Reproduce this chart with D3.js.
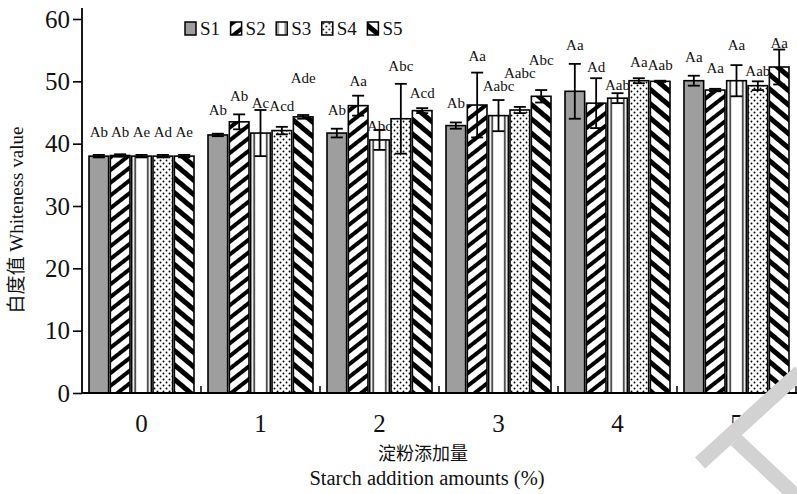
<!DOCTYPE html>
<html><head><meta charset="utf-8">
<script src="https://cdn.jsdelivr.net/npm/d3@7"></script>
<style>
html,body{margin:0;padding:0;background:#fff;}
svg{display:block;}
text{font-family:"Liberation Serif","Times New Roman","Noto Sans CJK SC",serif;fill:#111;}
</style></head>
<body>
<svg id="chart" width="797" height="494"></svg>
<script>
// ---------- data ----------
const categories = ["0", "1", "2", "3", "4", "5"];
const seriesNames = ["S1", "S2", "S3", "S4", "S5"];
const S1 = [38.0, 41.4, 41.7, 42.9, 48.4, 50.1];
const S2 = [38.1, 43.5, 46.1, 46.2, 46.5, 48.6];
const S3 = [38.0, 41.7, 40.6, 44.5, 47.3, 50.1];
const S4 = [38.0, 42.1, 44.0, 45.4, 50.1, 49.3];
const S5 = [38.0, 44.3, 45.3, 47.6, 50.0, 52.3];
const S1err = [0.2, 0.2, 0.7, 0.5, 4.4, 0.8];
const S2err = [0.2, 1.2, 1.6, 5.2, 4.0, 0.2];
const S3err = [0.2, 3.7, 1.6, 2.5, 0.8, 2.5];
const S4err = [0.2, 0.6, 5.6, 0.5, 0.4, 0.7];
const S5err = [0.2, 0.3, 0.4, 1.0, 0.1, 2.8];
const S1sig = ["Ab", "Ab", "Ab", "Ab", "Aa", "Aa"];
const S2sig = ["Ab", "Ab", "Aa", "Aa", "Ad", "Aa"];
const S3sig = ["Ae", "Ac", "Abc", "Aabc", "Aab", "Aa"];
const S4sig = ["Ad", "Acd", "Abc", "Aabc", "Aa", "Aab"];
const S5sig = ["Ae", "Ade", "Acd", "Abc", "Aab", "Aa"];
// height (in whiteness units) at which each letter label sits
const S1sigAt = [41.1, 44.6, 44.6, 45.8, 55.1, 53.1];
const S2sigAt = [41.1, 46.8, 49.2, 53.2, 51.5, 51.4];
const S3sigAt = [41.1, 45.7, 42.1, 48.5, 48.6, 55.1];
const S4sigAt = [41.1, 45.3, 51.7, 50.5, 52.3, 50.9];
const S5sigAt = [41.1, 49.8, 47.4, 52.7, 51.8, 55.3];
const yTicks = [0, 10, 20, 30, 40, 50, 60];

const values = [S1, S2, S3, S4, S5];
const errors = [S1err, S2err, S3err, S4err, S5err];
const sigs = [S1sig, S2sig, S3sig, S4sig, S5sig];
const sigAt = [S1sigAt, S2sigAt, S3sigAt, S4sigAt, S5sigAt];

// ---------- layout ----------
const svg = d3.select("#chart");
const mLeft = 82, mRight = 796, mTop = 8, mBottom = 393;

const x0 = d3.scaleBand().domain(categories).range([mLeft, mRight]).paddingInner(0).paddingOuter(0);
const x1 = d3.scaleBand().domain(seriesNames).range([7, x0.bandwidth() - 7]).paddingInner(0.08);
const y = d3.scaleLinear().domain([0, 60]).range([mBottom, 19]);

// ---------- patterns ----------
const defs = svg.append("defs");
function stripes(id, angle, period, black) {
  const p = defs.append("pattern").attr("id", id).attr("patternUnits", "userSpaceOnUse")
    .attr("width", period).attr("height", period).attr("patternTransform", `rotate(${angle})`);
  p.append("rect").attr("width", period).attr("height", period).attr("fill", "#fff");
  p.append("rect").attr("width", period).attr("height", black).attr("fill", "#000");
}
stripes("pS2", -38, 10, 4);
stripes("pS5", 40, 11, 5);
const p3 = defs.append("pattern").attr("id", "pS3").attr("patternUnits", "objectBoundingBox")
  .attr("patternContentUnits", "objectBoundingBox").attr("width", 1).attr("height", 1);
p3.append("rect").attr("width", 1).attr("height", 1).attr("fill", "#fff");
p3.append("rect").attr("x", 0.14).attr("width", 0.07).attr("height", 1).attr("fill", "#000");
p3.append("rect").attr("x", 0.79).attr("width", 0.07).attr("height", 1).attr("fill", "#000");
const p4 = defs.append("pattern").attr("id", "pS4").attr("patternUnits", "userSpaceOnUse")
  .attr("width", 6).attr("height", 6);
p4.append("rect").attr("width", 6).attr("height", 6).attr("fill", "#fff");
p4.append("circle").attr("cx", 1.5).attr("cy", 1.5).attr("r", 0.95).attr("fill", "#000");
p4.append("circle").attr("cx", 4.5).attr("cy", 4.5).attr("r", 0.95).attr("fill", "#000");
const fills = ["#9e9e9e", "url(#pS2)", "url(#pS3)", "url(#pS4)", "url(#pS5)"];

// ---------- bars ----------
const flat = [];
categories.forEach((c, i) => seriesNames.forEach((s, j) => {
  flat.push({cat: c, ser: s, j, v: values[j][i], e: errors[j][i], sig: sigs[j][i], at: sigAt[j][i]});
}));

const g = svg.append("g");
const bx = d => x0(d.cat) + x1(d.ser);
g.selectAll("rect.bar").data(flat).join("rect").attr("class", "bar")
  .attr("x", d => bx(d)).attr("y", d => y(d.v))
  .attr("width", x1.bandwidth()).attr("height", d => y(0) - y(d.v))
  .attr("fill", d => fills[d.j]).attr("stroke", "#000").attr("stroke-width", 1.6);

// error bars
const cap = 6;
const eb = g.selectAll("g.err").data(flat).join("g").attr("class", "err")
  .attr("stroke", "#000").attr("stroke-width", 1.8);
eb.append("line").attr("x1", d => bx(d) + x1.bandwidth() / 2).attr("x2", d => bx(d) + x1.bandwidth() / 2)
  .attr("y1", d => y(d.v - d.e)).attr("y2", d => y(d.v + d.e));
eb.append("line").attr("x1", d => bx(d) + x1.bandwidth() / 2 - cap).attr("x2", d => bx(d) + x1.bandwidth() / 2 + cap)
  .attr("y1", d => y(d.v + d.e)).attr("y2", d => y(d.v + d.e));
eb.append("line").attr("x1", d => bx(d) + x1.bandwidth() / 2 - cap).attr("x2", d => bx(d) + x1.bandwidth() / 2 + cap)
  .attr("y1", d => y(d.v - d.e)).attr("y2", d => y(d.v - d.e));

// significance letters
g.selectAll("text.sig").data(flat).join("text").attr("class", "sig")
  .attr("x", d => bx(d) + x1.bandwidth() / 2).attr("y", d => y(d.at))
  .attr("text-anchor", "middle").attr("font-size", 15).text(d => d.sig);

// ---------- axes ----------
const axisFont = '"Liberation Serif","Times New Roman",serif';
const yAxis = svg.append("g").attr("transform", `translate(${mLeft},0)`)
  .call(d3.axisLeft(y).tickValues(yTicks).tickSize(9).tickPadding(3).tickSizeOuter(0));
yAxis.select(".domain").remove();
yAxis.append("line").attr("x1", 0).attr("x2", 0).attr("y1", mTop).attr("y2", mBottom)
  .attr("stroke", "#000").attr("stroke-width", 1.8);
yAxis.selectAll(".tick line").attr("stroke", "#000").attr("stroke-width", 1.6);
yAxis.selectAll(".tick text").attr("font-size", 25).attr("fill", "#111").style("font-family", axisFont);

const xAxis = svg.append("g").attr("transform", `translate(0,${mBottom})`)
  .call(d3.axisBottom(x0).tickSize(0).tickPadding(21).tickSizeOuter(0));
xAxis.select(".domain").remove();
xAxis.append("line").attr("x1", mLeft).attr("x2", 797).attr("y1", 0).attr("y2", 0)
  .attr("stroke", "#000").attr("stroke-width", 1.8);
xAxis.selectAll(".tick text").attr("font-size", 25).attr("fill", "#111").style("font-family", axisFont);
// inward ticks at group boundaries
xAxis.selectAll("line.bt").data(categories.slice(1).concat(["end"])).join("line").attr("class", "bt")
  .attr("x1", d => d === "end" ? x0.range()[1] : x0(d)).attr("x2", d => d === "end" ? x0.range()[1] : x0(d))
  .attr("y1", 0).attr("y2", -7).attr("stroke", "#000").attr("stroke-width", 1.5);

// axis titles
svg.append("text").attr("x", 423).attr("y", 460).attr("text-anchor", "middle")
  .attr("font-size", 18).text("淀粉添加量");
svg.append("text").attr("x", 427).attr("y", 485).attr("text-anchor", "middle")
  .attr("font-size", 20.5).text("Starch addition amounts (%)");
svg.append("text").attr("transform", "translate(23,220) rotate(-90)").attr("text-anchor", "middle")
  .attr("font-size", 19).text("白度值 Whiteness value");

// ---------- legend ----------
const legend = svg.append("g").attr("transform", "translate(185,22)");
const li = legend.selectAll("g").data(seriesNames).join("g")
  .attr("transform", (d, i) => `translate(${i * 45.6},0)`);
li.append("rect").attr("width", 11).attr("height", 13).attr("fill", (d, i) => fills[i])
  .attr("stroke", "#000").attr("stroke-width", 1.5);
li.append("text").attr("x", 15).attr("y", 13).attr("font-size", 19).text(d => d);

// ---------- watermark ----------
const wm = svg.append("g").attr("stroke", "#d2d2d2").attr("stroke-width", 15).attr("fill", "none");
wm.append("line").attr("x1", 700).attr("y1", 463).attr("x2", 800).attr("y2", 372);
wm.append("line").attr("x1", 736).attr("y1", 440).attr("x2", 800).attr("y2", 500);
</script>
</body></html>
